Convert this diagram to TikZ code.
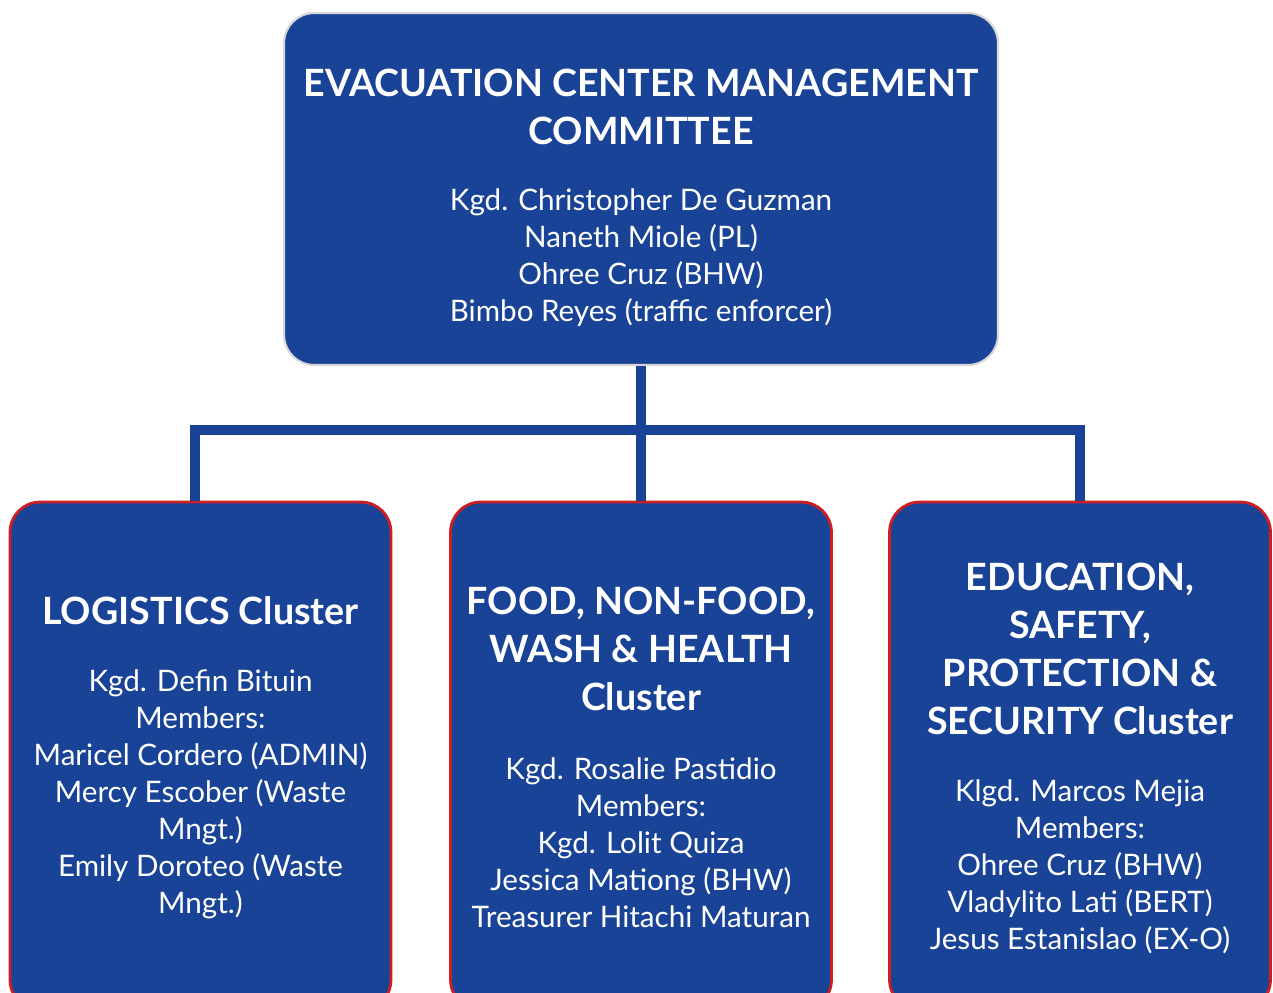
\documentclass[tikz,border=0pt]{standalone}
\usepackage{fontspec}
\setmainfont{Lato}
\definecolor{ecblue}{RGB}{25,67,150}
\definecolor{ecred}{RGB}{205,30,35}
\definecolor{ecgray}{RGB}{215,215,215}
\newcommand{\headfont}{\bfseries\fontsize{21.4}{27.3}\selectfont}
\newcommand{\namefont}{\fontsize{16.85}{21.05}\selectfont}
\tikzset{
  panel/.style={fill=ecblue, rounded corners=0.6cm, inner sep=0pt},
  topbox/.style={panel, draw=ecgray, line width=1.2pt, minimum width=14.28cm, minimum height=7.04cm},
  clusterbox/.style={panel, draw=ecred, line width=1.6pt, minimum width=7.62cm, minimum height=10.16cm},
  head/.style={text=white, align=center, inner sep=0pt, font=\headfont},
  names/.style={text=white, align=center, inner sep=0pt, font=\namefont},
  link/.style={draw=ecblue, line width=5.7pt}
}
\begin{document}
\begin{tikzpicture}[x=0.02cm, y=-0.02cm]
  \clip (0,0) rectangle (1273,992);
  \useasboundingbox (0,0) rectangle (1273,992);

  % boxes
  \node[topbox] (ecmc) at (641,189) {};
  \node[clusterbox] (logi) at (200.5,756) {};
  \node[clusterbox] (food) at (641,756) {};
  \node[clusterbox] (edu) at (1080,756) {};

  % connectors
  \coordinate (bus) at (641,430);
  \coordinate (busl) at (195,430);
  \coordinate (busr) at (1080,430);
  \draw[link] (ecmc.south) -- (bus);
  \draw[link] (busl |- logi.north) -- (busl) -- (busr) -- (busr |- edu.north);
  \draw[link] (bus) -- (food.north);

  % texts
  \node[head] (ecmctitle) at (641,107) {EVACUATION CENTER MANAGEMENT\\COMMITTEE};
  \node[names] (ecmcnames) at (641,258) {Kgd. Christopher De Guzman\\Naneth Miole (PL)\\Ohree Cruz (BHW)\\Bimbo Reyes (traffic enforcer)};

  \node[head] (logititle) at (200.5,611) {LOGISTICS Cluster};
  \node[names] (loginames) at (200.5,794.5) {Kgd. Defin Bituin\\Members:\\Maricel Cordero (ADMIN)\\Mercy Escober (Waste\\Mngt.)\\Emily Doroteo (Waste\\Mngt.)};

  \node[head] (foodtitle) at (641,649) {FOOD, NON-FOOD,\\WASH \& HEALTH\\Cluster};
  \node[names] (foodnames) at (641,842.5) {Kgd. Rosalie Pastidio\\Members:\\Kgd. Lolit Quiza\\Jessica Mationg (BHW)\\Treasurer Hitachi Maturan};

  \node[head] (edutitle) at (1080,649) {EDUCATION,\\SAFETY,\\PROTECTION \&\\SECURITY Cluster};
  \node[names] (edunames) at (1080,866.5) {Klgd. Marcos Mejia\\Members:\\Ohree Cruz (BHW)\\Vladylito Lati (BERT)\\Jesus Estanislao (EX-O)};
\end{tikzpicture}
\end{document}
